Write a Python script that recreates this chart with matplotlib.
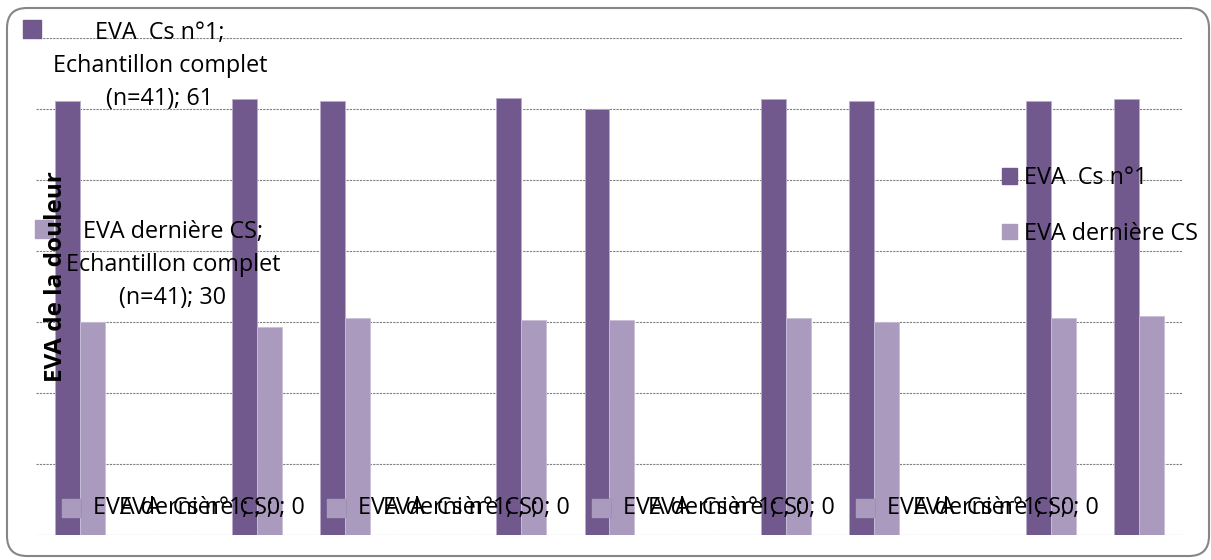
import matplotlib.pyplot as plt
from matplotlib.patches import Patch, FancyBboxPatch
from matplotlib.transforms import IdentityTransform
import numpy as np

plt.rcParams["font.family"] = ["Open Sans", "DejaVu Sans"]

# 13 catégories, seule la première a un nom
categories = ["Echantillon complet (n=41)"] + [""] * 12
eva_cs1 = [61, 0, 61.4, 61.1, 0, 61.5, 60, 0, 61.4, 61, 0, 61, 61.4]
eva_derniere = [30, 0, 29.3, 30.5, 0, 30.3, 30.3, 0, 30.5, 30, 0, 30.5, 30.8]
series_names = ["EVA  Cs n°1", "EVA dernière CS"]

DARK = "#71598E"
LIGHT = "#A99ABE"
FS = 16.8


def main():
    fig = plt.figure(figsize=(12.11, 5.6), dpi=100)
    ax = fig.add_axes([36 / 1211, 25 / 560, 1147 / 1211, 497.5 / 560])

    x = np.arange(len(categories))
    w = 0.283
    ax.bar(x - w / 2, eva_cs1, w, color=DARK, edgecolor="#B9ADCB", linewidth=0.6, zorder=3)
    ax.bar(x + w / 2, eva_derniere, w, color=LIGHT, edgecolor="#C9C0D8", linewidth=0.6, zorder=3)

    ax.set_xlim(-0.5, len(categories) - 0.5)
    ax.set_ylim(0, 70)
    ax.set_yticks(np.arange(0, 71, 10))
    ax.set_xticks([])
    ax.tick_params(left=False, labelleft=False)
    ax.grid(axis="y", color="#7f7f7f", linestyle=(0, (2, 1)), linewidth=0.8, zorder=0)
    for s in ax.spines.values():
        s.set_visible(False)

    # titre de l'axe, dessiné au-dessus des barres
    ax.text(0.0174, 0.52, "EVA de la douleur", transform=ax.transAxes, rotation=90,
            ha="center", va="center", fontsize=17.5, fontweight="bold", zorder=6)

    # étiquettes de données de la première catégorie
    ax.text(0.906, 66.0, series_names[0] + ";\nEchantillon complet\n(n=41); %g" % eva_cs1[0],
            ha="center", va="center", fontsize=FS, linespacing=1.5, clip_on=False, zorder=5)
    ax.scatter([-0.55], [71.2], marker="s", s=170, color=DARK, clip_on=False, zorder=5)
    ax.text(1.053, 38.0, series_names[1] + ";\nEchantillon complet\n(n=41); %g" % eva_derniere[0],
            ha="center", va="center", fontsize=FS, linespacing=1.5, clip_on=False, zorder=5)
    ax.scatter([-0.41], [43.1], marker="s", s=170, color=LIGHT, clip_on=False, zorder=5)

    # étiquettes des catégories vides (superposées)
    for i, c in enumerate(categories):
        if eva_cs1[i] == 0 and eva_derniere[i] == 0:
            ax.text(i + 0.35, 3.8, "%s; %s; %g" % (series_names[0], c, eva_cs1[i]),
                    ha="center", va="center", fontsize=FS, zorder=5)
            ax.text(i + 0.35, 3.8, "%s; %s; %g" % (series_names[1], c, eva_derniere[i]),
                    ha="center", va="center", fontsize=FS, zorder=5)
            ax.scatter([i - 1.1], [3.8], marker="s", s=170, color=DARK, zorder=5)
            ax.scatter([i - 1.1], [3.8], marker="s", s=170, color=LIGHT, zorder=5)

    handles = [Patch(color=DARK), Patch(color=LIGHT)]
    ax.legend(handles, series_names, loc="upper left", bbox_to_anchor=(0.842, 0.741),
              frameon=False, fontsize=FS, handlelength=0.65, handleheight=0.65,
              handletextpad=0.3, labelspacing=1.35, borderpad=0, borderaxespad=0)

    border = FancyBboxPatch((7, 4), 1202, 548, boxstyle="round,pad=0,rounding_size=20",
                            transform=IdentityTransform(), facecolor="none",
                            edgecolor="#868686", linewidth=1.5)
    fig.patches.append(border)

    fig.savefig("out.png", dpi=100)


if __name__ == "__main__":
    main()
